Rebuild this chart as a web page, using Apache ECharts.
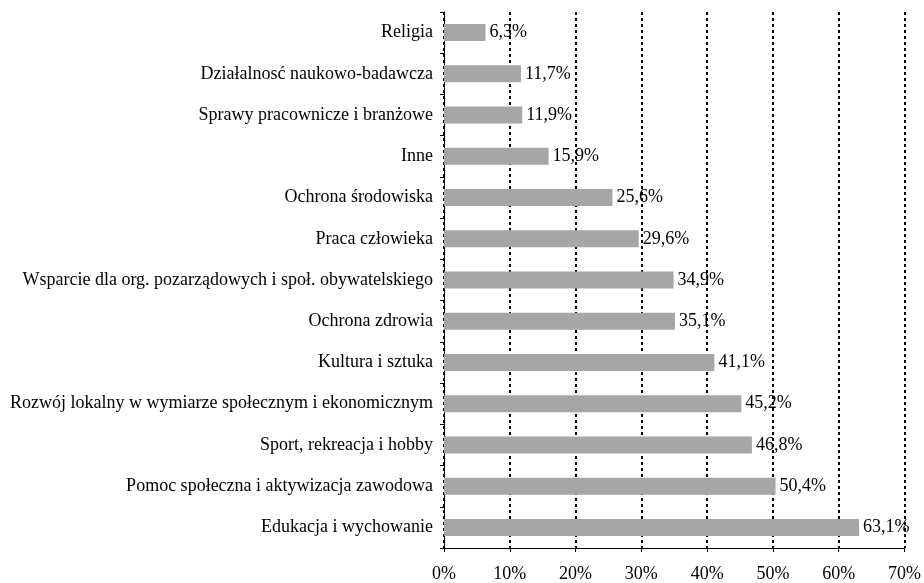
<!DOCTYPE html>
<html>
<head>
<meta charset="utf-8">
<script src="https://cdn.jsdelivr.net/npm/echarts@6/dist/echarts.min.js"></script>
<style>
  html, body { margin: 0; padding: 0; background: #fff; }
  #chart { width: 924px; height: 583px; }
</style>
</head>
<body>
<div id="chart"></div>
<script>
// categories listed bottom -> top (ECharts category axis starts at the bottom)
var CATEGORIES = [
  "Edukacja i wychowanie",
  "Pomoc społeczna i aktywizacja zawodowa",
  "Sport, rekreacja i hobby",
  "Rozwój lokalny w wymiarze społecznym i ekonomicznym",
  "Kultura i sztuka",
  "Ochrona zdrowia",
  "Wsparcie dla org. pozarządowych i społ. obywatelskiego",
  "Praca człowieka",
  "Ochrona środowiska",
  "Inne",
  "Sprawy pracownicze i branżowe",
  "Działalnosć naukowo-badawcza",
  "Religia"
];
var VALUES = [63.1, 50.4, 46.8, 45.2, 41.1, 35.1, 34.9, 29.6, 25.6, 15.9, 11.9, 11.7, 6.3];

var FONT = "'Liberation Serif','DejaVu Serif',serif";
var INK = "#000";

function pct(v) { return v.toFixed(1).replace(".", ",") + "%"; }

var chart = echarts.init(document.getElementById("chart"));
chart.setOption({
  animation: false,
  backgroundColor: "#fff",
  grid: { left: 444, right: 19, top: 12, bottom: 35, containLabel: false },
  xAxis: {
    type: "value", min: 0, max: 70, interval: 10,
    axisLine: { show: true, lineStyle: { color: INK, width: 1 } },
    axisTick: { show: true, length: 4, lineStyle: { color: INK } },
    axisLabel: { color: INK, fontFamily: FONT, fontSize: 18, margin: 17,
      formatter: function(v) { return v + "%"; } },
    splitLine: { show: true, lineStyle: { color: INK, type: [3, 3], width: 2 } }
  },
  yAxis: {
    type: "category", data: CATEGORIES,
    axisLine: { show: true, lineStyle: { color: INK, width: 1 } },
    axisTick: { show: true, length: 4, lineStyle: { color: INK } },
    axisLabel: { color: INK, fontFamily: FONT, fontSize: 18, margin: 11 }
  },
  series: [{
    type: "bar", data: VALUES, barWidth: 17,
    itemStyle: { color: "#a6a6a9" },
    label: { show: true, position: "right", distance: 4, color: INK,
      fontFamily: FONT, fontSize: 18,
      formatter: function(p) { return pct(p.value); } }
  }]
});
</script>
</body>
</html>
